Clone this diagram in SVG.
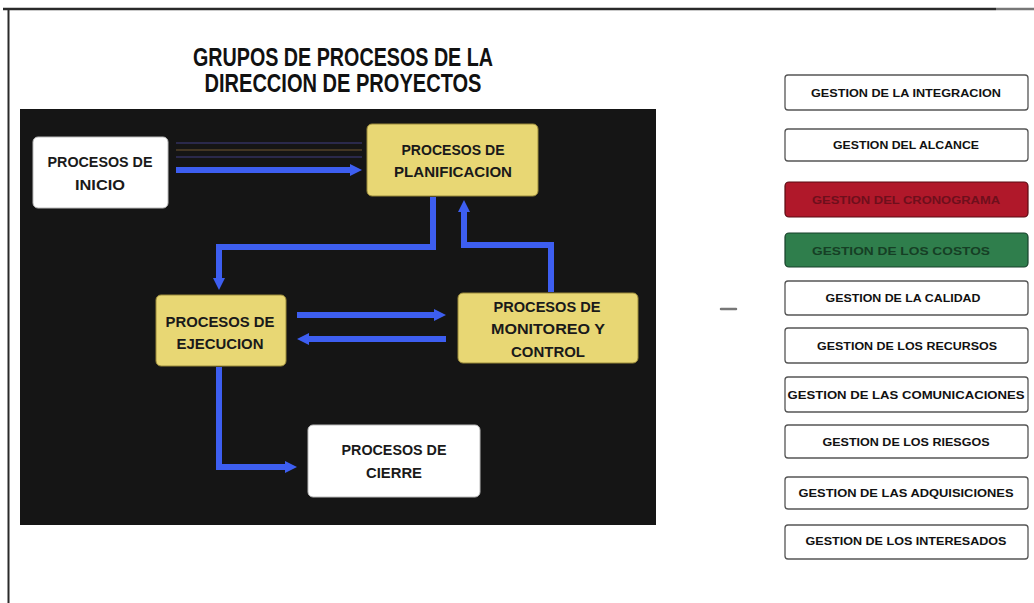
<svg xmlns="http://www.w3.org/2000/svg" width="1034" height="603" viewBox="0 0 1034 603">
<defs>
<style>
.title{font-family:"Liberation Sans",Arial,sans-serif;font-weight:bold;font-size:25px;fill:#111;text-anchor:middle}
.nt{font-family:"Liberation Sans",Arial,sans-serif;font-weight:bold;font-size:15px;fill:#1a1a1a;text-anchor:middle}
.gt{font-family:"Liberation Sans",Arial,sans-serif;font-weight:bold;font-size:11.5px;fill:#111;text-anchor:middle}
.wbox{fill:#ffffff;stroke:#bbbbbb;stroke-width:1}
.ybox{fill:#e8d774;stroke:#9a8a3a;stroke-width:1}
.gbox{fill:#ffffff;stroke:#555;stroke-width:1.3}
.conn{fill:none;stroke:#3d5ef0;stroke-width:6;stroke-linejoin:miter}
.faint{fill:none;stroke-width:2;opacity:0.55}
</style>
<marker id="ah" viewBox="0 0 10 10" refX="5" refY="5" markerWidth="2" markerHeight="2.2" orient="auto" markerUnits="strokeWidth">
<path d="M0,0 L10,5 L0,10 z" fill="#3d5ef0"/>
</marker>
</defs>
<rect x="0" y="0" width="1034" height="603" fill="#ffffff"/>
<g id="frame">
<line x1="3" y1="9" x2="996" y2="9" stroke="#2a2a2a" stroke-width="2.5"/>
<line x1="996" y1="9" x2="1034" y2="9" stroke="#777" stroke-width="2.5"/>
<line x1="8.5" y1="8" x2="8.5" y2="603" stroke="#2a2a2a" stroke-width="2"/>
</g>
<g id="title">
<text class="title" x="343" y="66" textLength="300" lengthAdjust="spacingAndGlyphs">GRUPOS DE PROCESOS DE LA</text>
<text class="title" x="343" y="92" textLength="277" lengthAdjust="spacingAndGlyphs">DIRECCION DE PROYECTOS</text>
</g>
<g id="panel">
<rect x="20" y="109" width="636" height="416" fill="#151515"/>
</g>
<g id="connectors">
<line class="faint" x1="176" y1="143" x2="362" y2="143" stroke="#3c3a78"/>
<line class="faint" x1="176" y1="150" x2="362" y2="150" stroke="#6a5230"/>
<line class="faint" x1="176" y1="157" x2="362" y2="157" stroke="#3c3a78"/>
<path class="conn" d="M176,170 H356" marker-end="url(#ah)"/>
<path class="conn" d="M433,197 V247 H219 V284" marker-end="url(#ah)"/>
<path class="conn" d="M551,292 V245 H464 V206" marker-end="url(#ah)"/>
<path class="conn" d="M297,315 H440" marker-end="url(#ah)"/>
<path class="conn" d="M446,339 H303" marker-end="url(#ah)"/>
<path class="conn" d="M219,367 V467 H291" marker-end="url(#ah)"/>
</g>
<g id="inicio">
<rect class="wbox" x="33" y="137" width="135" height="71" rx="5"/>
<text class="nt" x="100" y="167" textLength="105" lengthAdjust="spacingAndGlyphs">PROCESOS DE</text>
<text class="nt" x="100" y="190" textLength="50" lengthAdjust="spacingAndGlyphs">INICIO</text>
</g>
<g id="planificacion">
<rect class="ybox" x="367" y="124" width="171" height="72" rx="5"/>
<text class="nt" x="453" y="155" textLength="103" lengthAdjust="spacingAndGlyphs">PROCESOS DE</text>
<text class="nt" x="453" y="177" textLength="118" lengthAdjust="spacingAndGlyphs">PLANIFICACION</text>
</g>
<g id="ejecucion">
<rect class="ybox" x="156" y="295" width="130" height="71" rx="5"/>
<text class="nt" x="220" y="327" textLength="109" lengthAdjust="spacingAndGlyphs">PROCESOS DE</text>
<text class="nt" x="220" y="349" textLength="87" lengthAdjust="spacingAndGlyphs">EJECUCION</text>
</g>
<g id="monitoreo">
<rect class="ybox" x="458" y="293" width="180" height="70" rx="5"/>
<text class="nt" x="547" y="312" textLength="107" lengthAdjust="spacingAndGlyphs">PROCESOS DE</text>
<text class="nt" x="548" y="334" textLength="114" lengthAdjust="spacingAndGlyphs">MONITOREO Y</text>
<text class="nt" x="548" y="357" textLength="74" lengthAdjust="spacingAndGlyphs">CONTROL</text>
</g>
<g id="cierre">
<rect class="wbox" x="308" y="425" width="172" height="72" rx="5"/>
<text class="nt" x="394" y="455" textLength="105" lengthAdjust="spacingAndGlyphs">PROCESOS DE</text>
<text class="nt" x="394" y="478" textLength="56" lengthAdjust="spacingAndGlyphs">CIERRE</text>
</g>
<g id="g-integracion">
<rect class="gbox" x="785" y="75" width="243" height="35" rx="3"/>
<text class="gt" x="906" y="97" textLength="190" lengthAdjust="spacingAndGlyphs">GESTION DE LA INTEGRACION</text>
</g>
<g id="g-alcance">
<rect class="gbox" x="785" y="129" width="243" height="32" rx="3"/>
<text class="gt" x="906" y="149" textLength="146" lengthAdjust="spacingAndGlyphs">GESTION DEL ALCANCE</text>
</g>
<g id="g-cronograma">
<rect x="785" y="182" width="243" height="35" rx="4" fill="#b0182a" stroke="#5a0a12" stroke-width="1.2"/>
<text class="gt" x="906" y="204" style="fill:#6e0f1c" textLength="188" lengthAdjust="spacingAndGlyphs">GESTION DEL CRONOGRAMA</text>
</g>
<g id="g-costos">
<rect x="785" y="233" width="243" height="34" rx="4" fill="#2f7e4c" stroke="#17402a" stroke-width="1.2"/>
<text class="gt" x="901" y="255" style="fill:#163f25" textLength="178" lengthAdjust="spacingAndGlyphs">GESTION DE LOS COSTOS</text>
</g>
<g id="g-calidad">
<rect class="gbox" x="785" y="281" width="243" height="34" rx="3"/>
<text class="gt" x="903" y="302" textLength="155" lengthAdjust="spacingAndGlyphs">GESTION DE LA CALIDAD</text>
</g>
<g id="g-recursos">
<rect class="gbox" x="785" y="328" width="243" height="35" rx="3"/>
<text class="gt" x="907" y="350" textLength="180" lengthAdjust="spacingAndGlyphs">GESTION DE LOS RECURSOS</text>
</g>
<g id="g-comunicaciones">
<rect class="gbox" x="785" y="377" width="243" height="35" rx="3"/>
<text class="gt" x="906" y="399" textLength="237" lengthAdjust="spacingAndGlyphs">GESTION DE LAS COMUNICACIONES</text>
</g>
<g id="g-riesgos">
<rect class="gbox" x="785" y="425" width="243" height="33" rx="3"/>
<text class="gt" x="906" y="446" textLength="167" lengthAdjust="spacingAndGlyphs">GESTION DE LOS RIESGOS</text>
</g>
<g id="g-adquisiciones">
<rect class="gbox" x="785" y="477" width="243" height="32" rx="3"/>
<text class="gt" x="906" y="497" textLength="215" lengthAdjust="spacingAndGlyphs">GESTION DE LAS ADQUISICIONES</text>
</g>
<g id="g-interesados">
<rect class="gbox" x="785" y="525" width="243" height="34" rx="3"/>
<text class="gt" x="906" y="545" textLength="201" lengthAdjust="spacingAndGlyphs">GESTION DE LOS INTERESADOS</text>
</g>
<line x1="721" y1="309" x2="736" y2="309" stroke="#777" stroke-width="2.5" stroke-linecap="round"/>
</svg>
